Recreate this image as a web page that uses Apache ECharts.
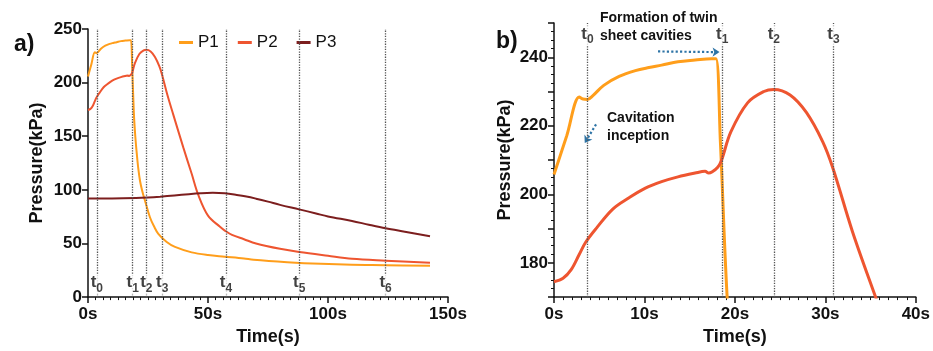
<!DOCTYPE html>
<html>
<head>
<meta charset="utf-8">
<script src="https://cdn.jsdelivr.net/npm/echarts@6/dist/echarts.min.js"></script>
<style>
html,body{margin:0;padding:0;background:#fff;}
#c{width:933px;height:351px;}
</style>
</head>
<body>
<div id="c"></div>
<script>
// ---- data ----
const p1Time = [0, 1.4, 2.8, 3.2, 3.7, 4.3, 5.5, 7.2, 9.0, 10.5, 11.9, 13.7, 15.6, 17.4, 17.9, 18.4, 19.1, 19.7, 20.4, 21.0, 21.7, 22.6, 23.6, 25.8, 27.5, 29.3, 32.8, 36.25, 43.2, 50, 57, 65, 69, 83, 97, 110, 124, 142.5];
const p1Val  = [205.8, 217, 228.4, 227.8, 227.7, 228.8, 231.8, 234.4, 236.1, 237, 237.7, 238.7, 239.2, 239.6, 239.6, 215, 172, 150, 132, 119, 108, 99, 91, 74.5, 66, 59, 51.4, 46.8, 41.7, 39.2, 37.7, 36, 34.8, 32.6, 31, 30.1, 29.8, 29.2];

const p2Time = [0, 1, 1.9, 2.8, 3.5, 4.65, 6.5, 8.3, 10.1, 11.9, 13.7, 15.6, 16.7, 17.1, 17.5, 18.1, 18.5, 19.55, 21.4, 23.2, 24.3, 26.1, 27.9, 29.7, 30.8, 33, 35.5, 39.7, 43.2, 46, 50, 55, 57, 60, 65, 70, 80, 88, 100, 110, 124, 142.5];
const p2Val  = [174.5, 175.5, 178, 182.5, 186, 190, 195.7, 199, 201.8, 203.7, 205.1, 206.2, 206.7, 206.2, 206.6, 207.9, 209.8, 218.2, 226.7, 230, 230.6, 229, 223.9, 215.4, 207.9, 189.1, 170.4, 139.6, 115, 95, 76, 65.5, 62, 58, 54, 50, 45, 42, 38.5, 35.8, 34, 32];

const p3Time = [0, 10, 20, 25, 30, 36, 42, 47, 52, 57, 62, 66, 70, 75, 80, 88, 95, 100, 110, 117, 124, 132, 142.5];
const p3Val  = [92, 92, 92.3, 92.8, 93.6, 94.8, 96, 96.8, 97.2, 96.8, 95.3, 93.8, 91.8, 89, 86, 81.8, 78, 75.2, 71, 67.5, 64.2, 61, 56.8];

const tMarks = [3.7, 18.6, 24.3, 30.9, 57.5, 88, 124];
const tSubs  = ['0', '1', '2', '3', '4', '5', '6'];

const xTicksA = [0, 50, 100, 150];
const yTicksA = [0, 50, 100, 150, 200, 250];
const xTicksB = [0, 10, 20, 30, 40];
const yTicksB = [180, 200, 220, 240];

// ---- styling ----
const FONT = "'Liberation Sans', Arial, sans-serif";
const C1 = '#FF9E1B', C2 = '#EE5530', C3 = '#7C1E1E';
const zip = (a, b) => a.map((v, i) => [v, b[i]]);

const axisLine = {show: true, lineStyle: {color: '#111', width: 1.5}};
const tickLbl = {color: '#111', fontFamily: FONT, fontWeight: 'bold', fontSize: 17};
const nameStyle = {color: '#111', fontFamily: FONT, fontWeight: 'bold', fontSize: 18};

const vLines = (arr) => ({
  silent: true, symbol: 'none', label: {show: false},
  lineStyle: {color: '#555', type: 'dotted', width: 1.3},
  data: arr.map(t => ({xAxis: t}))
});

const tRich = {
  t: {fontSize: 17, fontWeight: 'bold', fontFamily: FONT, color: '#111', verticalAlign: 'top', lineHeight: 17},
  s: {fontSize: 12, fontWeight: 'bold', fontFamily: FONT, color: '#111', verticalAlign: 'bottom', lineHeight: 20}
};
const tLabelSeries = (xi, yi, times, yv) => ({
  type: 'scatter', xAxisIndex: xi, yAxisIndex: yi, silent: true,
  symbolSize: 1, itemStyle: {color: 'rgba(0,0,0,0)'},
  data: times.map(t => [t, yv]),
  label: {show: true, position: 'inside', backgroundColor: '#fff', padding: [0, 0, 0, 0],
    formatter: p => '{t|t}{s|' + tSubs[p.dataIndex] + '}', rich: tRich},
  z: 5
});

const lineS = (name, xi, yi, data, color, w) => ({
  name, type: 'line', xAxisIndex: xi, yAxisIndex: yi, data,
  showSymbol: false, smooth: 0.35,
  lineStyle: {color, width: w}, itemStyle: {color}, clip: true, z: 3
});

const chart = echarts.init(document.getElementById('c'), null, {renderer: 'canvas'});
chart.setOption({
  animation: false,
  backgroundColor: '#fff',
  grid: [
    {left: 88, top: 29, width: 360, height: 274},
    {left: 554, top: 23, width: 367, height: 280}
  ],
  legend: {
    left: 179, top: 34, padding: 0, itemWidth: 14, itemHeight: 3, itemGap: 19, icon: 'rect',
    data: ['P1', 'P2', 'P3'],
    textStyle: {color: '#111', fontFamily: FONT, fontSize: 17}
  },
  xAxis: [
    {gridIndex: 0, type: 'value', min: xTicksA[0], max: xTicksA[xTicksA.length - 1], interval: 50,
     axisLine, splitLine: {show: false},
     axisTick: {length: 6, lineStyle: {color: '#111', width: 1.5}},
     minorTick: {show: true, splitNumber: 16, length: 3, lineStyle: {color: '#111', width: 1}},
     axisLabel: Object.assign({formatter: '{value}s', margin: 9}, tickLbl),
     name: 'Time(s)', nameLocation: 'middle', nameGap: 28, nameTextStyle: nameStyle},
    {gridIndex: 1, type: 'value', min: xTicksB[0], max: xTicksB[xTicksB.length - 1], interval: 10,
     axisLine, splitLine: {show: false},
     axisTick: {length: 6, lineStyle: {color: '#111', width: 1.5}},
     minorTick: {show: true, splitNumber: 10, length: 3, lineStyle: {color: '#111', width: 1}},
     axisLabel: Object.assign({formatter: '{value}s', margin: 9}, tickLbl),
     name: 'Time(s)', nameLocation: 'middle', nameGap: 28, nameTextStyle: nameStyle}
  ],
  yAxis: [
    {gridIndex: 0, type: 'value', min: yTicksA[0], max: yTicksA[yTicksA.length - 1], interval: 50,
     axisLine, splitLine: {show: false},
     axisTick: {show: true, length: 6, lineStyle: {color: '#111', width: 1.5}},
     axisLabel: Object.assign({margin: 6}, tickLbl),
     name: 'Pressure(kPa)', nameLocation: 'middle', nameGap: 42, nameTextStyle: nameStyle},
    {gridIndex: 1, type: 'value', min: 170, max: 250, interval: 10,
     axisLine, splitLine: {show: false},
     axisTick: {show: true, length: 6, lineStyle: {color: '#111', width: 1.5}},
     minorTick: {show: true, splitNumber: 4, length: 3, lineStyle: {color: '#111', width: 1}},
     axisLabel: Object.assign({margin: 6,
       formatter: v => yTicksB.indexOf(Math.round(v)) >= 0 ? String(Math.round(v)) : ''}, tickLbl),
     name: 'Pressure(kPa)', nameLocation: 'middle', nameGap: 40, nameTextStyle: nameStyle}
  ],
  graphic: [
    {type: 'text', left: 14, top: 33, style: {text: 'a)', fill: '#111', font: 'bold 23px ' + FONT}},
    {type: 'text', left: 496, top: 30, style: {text: 'b)', fill: '#111', font: 'bold 23px ' + FONT}},
    {type: 'text', left: 600, top: 9, style: {text: 'Formation of twin\nsheet cavities', fill: '#111', font: 'bold 14px ' + FONT, align: 'center', lineHeight: 18, width: 118}},
    {type: 'text', left: 607, top: 109, style: {text: 'Cavitation\ninception', fill: '#111', font: 'bold 14px ' + FONT, lineHeight: 18}}
  ],
  series: [
    lineS('P1', 0, 0, zip(p1Time, p1Val), C1, 2),
    lineS('P2', 0, 0, zip(p2Time, p2Val), C2, 2),
    Object.assign(lineS('P3', 0, 0, zip(p3Time, p3Val), C3, 2), {markLine: vLines(tMarks)}),
    tLabelSeries(0, 0, tMarks, 12),
    Object.assign(lineS('P1', 1, 1, zip(p1Time, p1Val), C1, 3),
      {markLine: {silent: true, symbol: ['none', 'arrow'], symbolSize: 7, label: {show: false},
        lineStyle: {color: '#2E74A6', type: 'dotted', width: 2.2},
        data: [
          [{coord: [11.5, 241.7]}, {coord: [18.3, 241.5]}],
          [{coord: [4.65, 220.4]}, {coord: [3.4, 215.0]}]
        ]}}),
    Object.assign(lineS('P2', 1, 1, zip(p2Time, p2Val), C2, 3), {markLine: vLines(tMarks.slice(0, 4))}),
    tLabelSeries(1, 1, tMarks.slice(0, 4), 246.3)
  ]
});
</script>
</body>
</html>
